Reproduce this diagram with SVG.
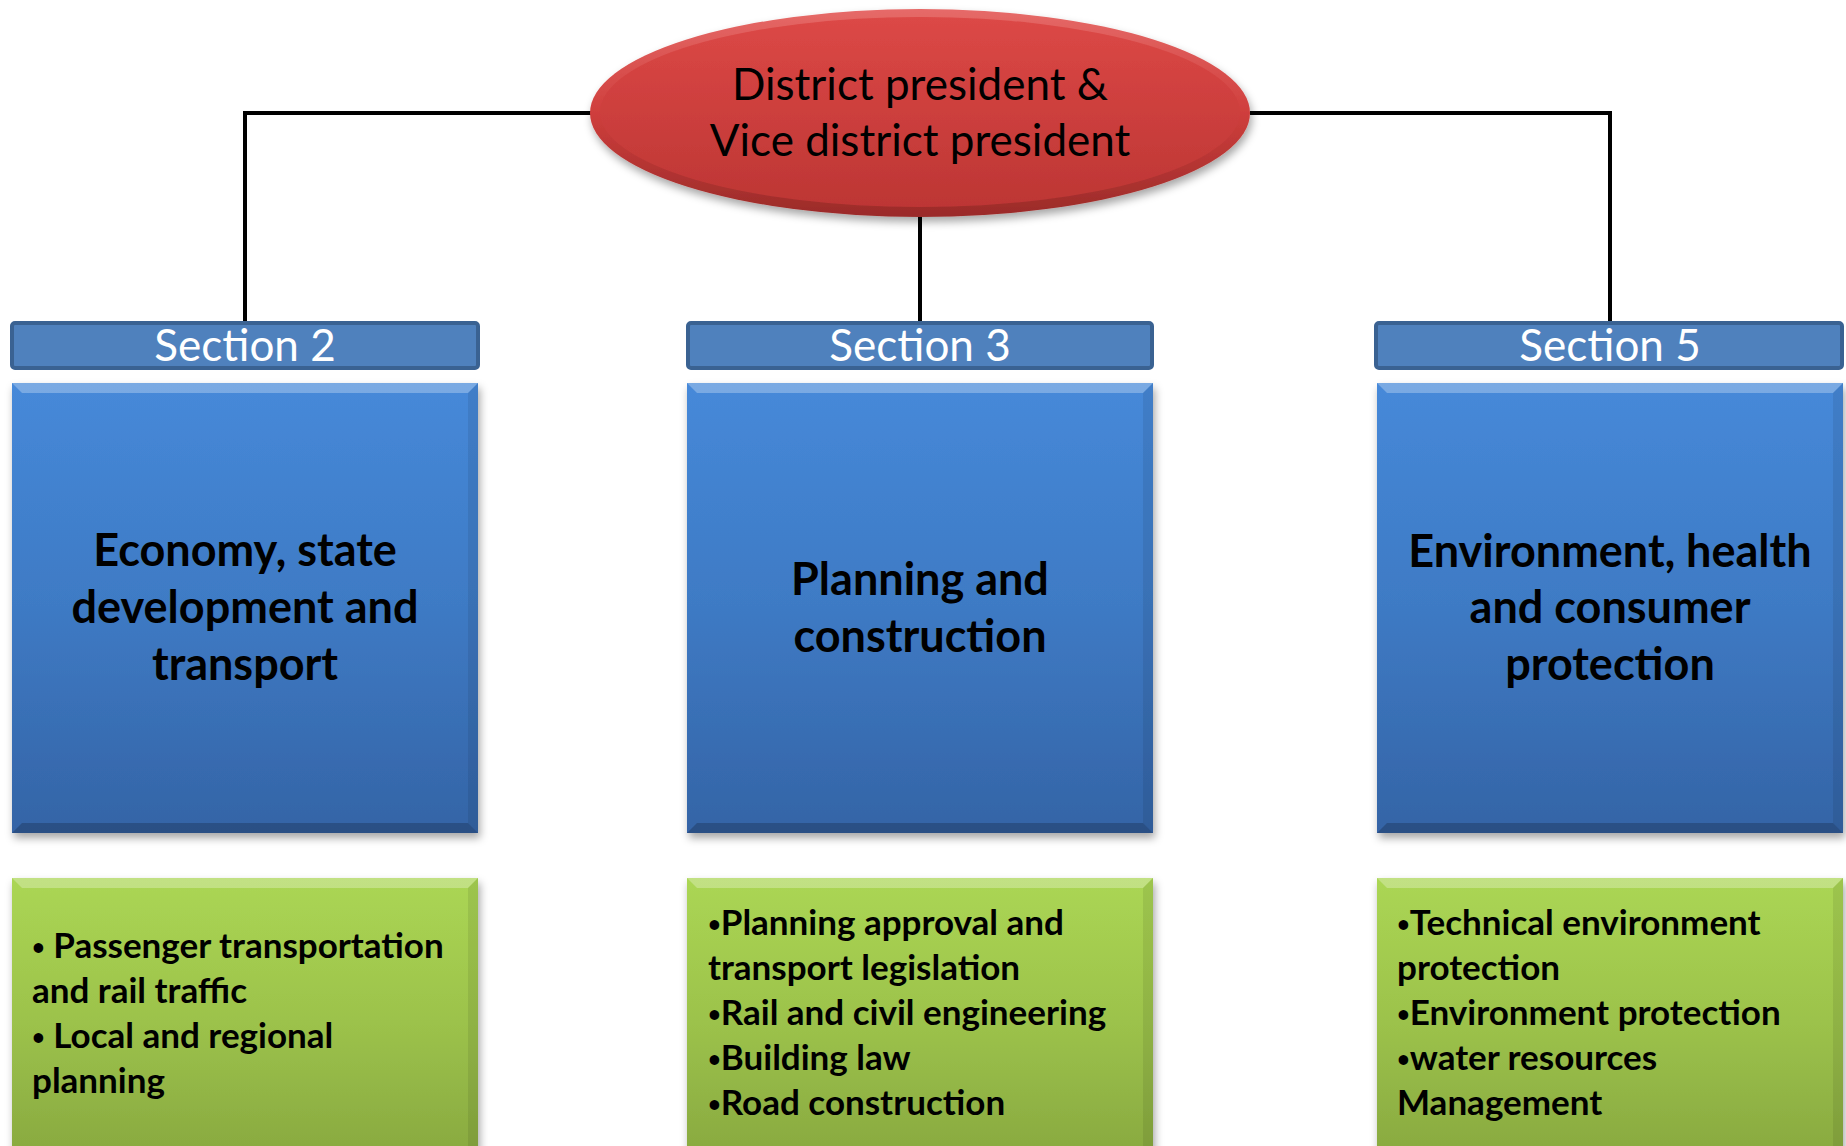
<svg xmlns="http://www.w3.org/2000/svg" width="1846" height="1146" viewBox="0 0 1846 1146">
  <defs>
    <linearGradient id="blueFill" x1="0" y1="0" x2="0" y2="1">
      <stop offset="0" stop-color="#4689d9"/>
      <stop offset="0.5" stop-color="#3e7ac4"/>
      <stop offset="1" stop-color="#3464a6"/>
    </linearGradient>
    <linearGradient id="greenFill" x1="0" y1="0" x2="0" y2="1">
      <stop offset="0" stop-color="#abd654"/>
      <stop offset="0.5" stop-color="#9cc24b"/>
      <stop offset="1" stop-color="#87a73f"/>
    </linearGradient>
    <linearGradient id="redRim" x1="0" y1="0" x2="0" y2="1">
      <stop offset="0" stop-color="#e66a68"/>
      <stop offset="0.5" stop-color="#cf3e3c"/>
      <stop offset="1" stop-color="#9a2b29"/>
    </linearGradient>
    <linearGradient id="redFill" x1="0" y1="0" x2="0" y2="1">
      <stop offset="0" stop-color="#dc4846"/>
      <stop offset="1" stop-color="#bd3634"/>
    </linearGradient>
    <filter id="shadow" x="-10%" y="-10%" width="120%" height="130%">
      <feDropShadow dx="2" dy="5" stdDeviation="4" flood-color="#000" flood-opacity="0.35"/>
    </filter>
  </defs>
  <style>
    .link { fill: none; stroke: #000; stroke-width: 4; }
    .head { fill: #4f81bd; stroke: #3a6292; stroke-width: 4; }
    .blue { fill: url(#blueFill); }
    .green { fill: url(#greenFill); }
    .hi { fill: #ffffff; opacity: 0.28; }
    .lo { fill: #000000; opacity: 0.2; }
    .side { fill: #000000; opacity: 0.08; }
    .t { font-family: Lato, "Open Sans", sans-serif; fill: #000; }
    .big { font-size: 44px; text-anchor: middle; }
    .title { font-size: 45px; font-weight: 700; text-anchor: middle; }
    .hdr { font-size: 44px; fill: #fff; text-anchor: middle; }
    .list { font-size: 35px; font-weight: 700; }
    .b { font-size: 22px; baseline-shift: 3px; }
  </style>

  <rect width="1846" height="1146" fill="#fff"/>

  <!-- connectors from the top node down to each section header -->
  <g id="connectors">
    <polyline class="link" points="591,113 245,113 245,321"/>
    <polyline class="link" points="1250,113 1610,113 1610,321"/>
    <line class="link" x1="920" y1="214" x2="920" y2="321"/>
  </g>

  <!-- top node -->
  <g id="president">
    <g filter="url(#shadow)">
      <ellipse cx="920" cy="113" rx="330" ry="104" fill="url(#redRim)"/>
      <ellipse cx="920" cy="112" rx="320" ry="95" fill="url(#redFill)"/>
    </g>
    <text class="t big" x="920" y="100">District president &amp;</text>
    <text class="t big" x="920" y="156">Vice district president</text>
  </g>

  <!-- Section 2 -->
  <g id="section2">
    <rect class="head" x="12" y="323" width="466" height="45" rx="3"/>
    <text class="t hdr" x="245" y="361">Section 2</text>
  </g>
  <g id="economy">
    <rect class="blue" x="12" y="383" width="466" height="450" filter="url(#shadow)"/>
    <polygon class="hi" points="12,383 478,383 468,393 22,393"/>
    <polygon class="lo" points="12,833 478,833 468,823 22,823"/>
    <polygon class="side" points="478,383 478,833 468,823 468,393"/>
    <text class="t title" x="245" y="566">Economy, state</text>
    <text class="t title" x="245" y="623">development and</text>
    <text class="t title" x="245" y="680">transport</text>
  </g>
  <g id="economy-tasks">
    <rect class="green" x="12" y="878" width="466" height="290" filter="url(#shadow)"/>
    <polygon class="hi" points="12,878 478,878 468,888 22,888"/>
    <polygon class="side" points="478,878 478,1168 468,1158 468,888"/>
    <text class="t list" x="32" y="958"><tspan class="b">•</tspan> Passenger transportation</text>
    <text class="t list" x="32" y="1003">and rail traffic</text>
    <text class="t list" x="32" y="1048"><tspan class="b">•</tspan> Local and regional</text>
    <text class="t list" x="32" y="1093">planning</text>
  </g>

  <!-- Section 3 -->
  <g id="section3">
    <rect class="head" x="688" y="323" width="464" height="45" rx="3"/>
    <text class="t hdr" x="920" y="361">Section 3</text>
  </g>
  <g id="planning">
    <rect class="blue" x="687" y="383" width="466" height="450" filter="url(#shadow)"/>
    <polygon class="hi" points="687,383 1153,383 1143,393 697,393"/>
    <polygon class="lo" points="687,833 1153,833 1143,823 697,823"/>
    <polygon class="side" points="1153,383 1153,833 1143,823 1143,393"/>
    <text class="t title" x="920" y="595">Planning and</text>
    <text class="t title" x="920" y="652">construction</text>
  </g>
  <g id="planning-tasks">
    <rect class="green" x="687" y="878" width="466" height="290" filter="url(#shadow)"/>
    <polygon class="hi" points="687,878 1153,878 1143,888 697,888"/>
    <polygon class="side" points="1153,878 1153,1168 1143,1158 1143,888"/>
    <text class="t list" x="708" y="935"><tspan class="b">•</tspan>Planning approval and</text>
    <text class="t list" x="708" y="980">transport legislation</text>
    <text class="t list" x="708" y="1025"><tspan class="b">•</tspan>Rail and civil engineering</text>
    <text class="t list" x="708" y="1070"><tspan class="b">•</tspan>Building law</text>
    <text class="t list" x="708" y="1115"><tspan class="b">•</tspan>Road construction</text>
  </g>

  <!-- Section 5 -->
  <g id="section5">
    <rect class="head" x="1376" y="323" width="466" height="45" rx="3"/>
    <text class="t hdr" x="1610" y="361">Section 5</text>
  </g>
  <g id="environment">
    <rect class="blue" x="1377" y="383" width="466" height="450" filter="url(#shadow)"/>
    <polygon class="hi" points="1377,383 1843,383 1833,393 1387,393"/>
    <polygon class="lo" points="1377,833 1843,833 1833,823 1387,823"/>
    <polygon class="side" points="1843,383 1843,833 1833,823 1833,393"/>
    <text class="t title" x="1610" y="567">Environment, health</text>
    <text class="t title" x="1610" y="623">and consumer</text>
    <text class="t title" x="1610" y="680">protection</text>
  </g>
  <g id="environment-tasks">
    <rect class="green" x="1377" y="878" width="466" height="290" filter="url(#shadow)"/>
    <polygon class="hi" points="1377,878 1843,878 1833,888 1387,888"/>
    <polygon class="side" points="1843,878 1843,1168 1833,1158 1833,888"/>
    <text class="t list" x="1397" y="935"><tspan class="b">•</tspan>Technical environment</text>
    <text class="t list" x="1397" y="980">protection</text>
    <text class="t list" x="1397" y="1025"><tspan class="b">•</tspan>Environment protection</text>
    <text class="t list" x="1397" y="1070"><tspan class="b">•</tspan>water resources</text>
    <text class="t list" x="1397" y="1115">Management</text>
  </g>
</svg>
